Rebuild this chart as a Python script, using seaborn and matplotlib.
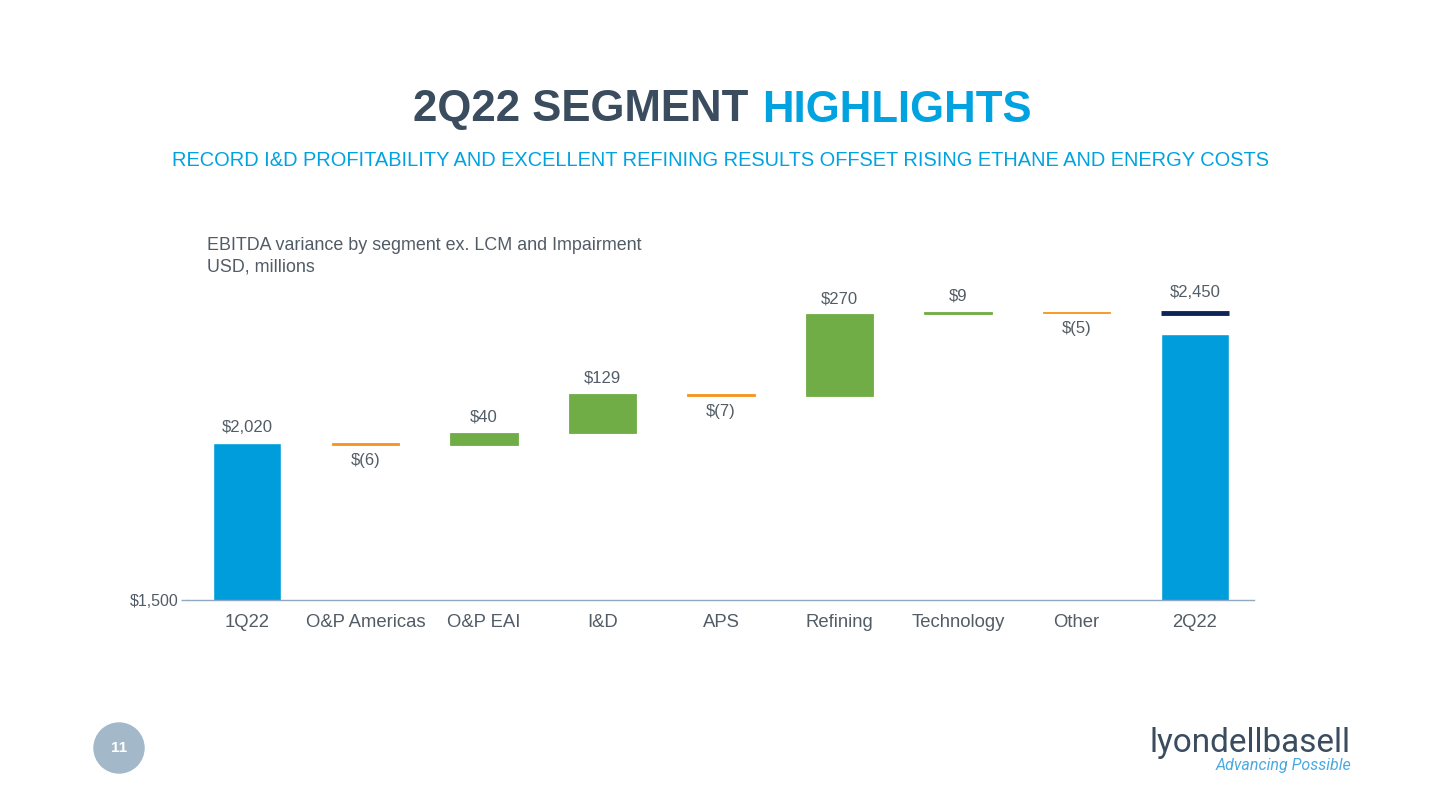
import numpy as np
import pandas as pd
import matplotlib
matplotlib.use("Agg")
import matplotlib.pyplot as plt
import seaborn as sns

# chart data
categories = ["1Q22", "O&P Americas", "O&P EAI", "I&D", "APS", "Refining", "Technology", "Other", "2Q22"]
start_total = 2020
deltas = [-6, 40, 129, -7, 270, 9, -5]
end_total = 2450
delta_labels = ["$(6)", "$40", "$129", "$(7)", "$270", "$9", "$(5)"]
total_labels = ["$2,020", "$2,450"]
y_base = 1500

BLUE = "#009DDC"
NAVY = "#0B2559"
GREEN = "#70AD47"
ORANGE = "#F7941D"
TXT = "#525C66"
DARK = "#3A4C5E"
CYAN = "#00A3E0"

sns.set_theme(style="white")
plt.rcParams["font.family"] = ["Liberation Sans", "DejaVu Sans"]

W, H = 1440, 810
fig = plt.figure(figsize=(W / 100, H / 100), dpi=100)
fig.patch.set_facecolor("white")

# axes placed in pixel terms
x0, x1, yb, yt = 188, 1254, 600, 290
ax = fig.add_axes([x0 / W, 1 - yb / H, (x1 - x0) / W, (yb - yt) / H])
px_per_unit = 157 / (start_total - y_base)
y_top = y_base + (yb - yt) / px_per_unit

# totals through seaborn
tot_df = pd.DataFrame({"cat": [categories[0], categories[-1]], "val": [start_total, end_total]})
gap = 21 / px_per_unit  # visual gap under the 2Q22 marker line
tot_df["drawn"] = [start_total, end_total - gap]
sns.barplot(data=tot_df, x="cat", y="drawn", order=categories, color=BLUE,
            saturation=1, width=0.57, ax=ax)

# waterfall steps
level = start_total
bw = 0.57
for i, d in enumerate(deltas, start=1):
    col = GREEN if d > 0 else ORANGE
    ax.bar(i, d, bottom=level, width=bw, color=col, edgecolor=col, linewidth=0.6)
    if d > 0:
        ax.text(i, level + d + 8 / px_per_unit, delta_labels[i - 1], ha="center", va="bottom",
                fontsize=12, color=TXT)
    else:
        ax.text(i, level + d - 8 / px_per_unit, delta_labels[i - 1], ha="center", va="top",
                fontsize=12, color=TXT)
    level += d

# total labels and end marker
n = len(categories) - 1
ax.plot([n - bw / 2, n + bw / 2], [end_total, end_total], color=NAVY, lw=3.5, solid_capstyle="butt")
ax.text(0, start_total + 8 / px_per_unit, total_labels[0], ha="center", va="bottom", fontsize=12, color=TXT)
ax.text(n, end_total + 13 / px_per_unit, total_labels[1], ha="center", va="bottom", fontsize=12, color=TXT)

ax.set_xlim(-0.5, len(categories) - 0.5)
ax.set_ylim(y_base, y_top)
ax.set_yticks([y_base])
ax.set_yticklabels(["$1,500"], fontsize=11.5, color=TXT)
ax.set_xticks(range(len(categories)))
ax.set_xticklabels(categories, fontsize=13.3, color=TXT)
ax.set_xlabel("")
ax.set_ylabel("")
for s in ["top", "right", "left"]:
    ax.spines[s].set_visible(False)
ax.spines["bottom"].set_color("#8EA9C1")
ax.spines["bottom"].set_linewidth(1)
ax.tick_params(axis="y", length=5, width=1, color="#8EA9C1", pad=2, left=True)
ax.tick_params(axis="x", length=0, pad=10)
ax.set_facecolor("none")

# titles
fig.text(748 / W, 1 - 110 / H, "2Q22 SEGMENT", ha="right", va="center", fontsize=31.5,
         fontweight="bold", color=DARK)
fig.text(762 / W, 1 - 110 / H, "HIGHLIGHTS", ha="left", va="center", fontsize=31.5,
         fontweight="bold", color=CYAN)
fig.text(720 / W, 1 - 161 / H,
         "RECORD I&D PROFITABILITY AND EXCELLENT REFINING RESULTS OFFSET RISING ETHANE AND ENERGY COSTS",
         ha="center", va="center", fontsize=14.4, color=CYAN)
fig.text(207 / W, 1 - 246 / H, "EBITDA variance by segment ex. LCM and Impairment",
         ha="left", va="center", fontsize=12.9, color=TXT)
fig.text(207 / W, 1 - 267 / H, "USD, millions", ha="left", va="center", fontsize=12.9, color=TXT)

# page number badge
circ = plt.Circle((119 / 100, (H - 748) / 100), 0.25, transform=fig.dpi_scale_trans, color="#A3B8C9")
fig.patches.append(circ)
fig.text(119 / W, 1 - 748 / H, "11", ha="center", va="center", fontsize=11,
         fontweight="bold", color="white")

# logo
fig.text(1351 / W, 1 - 752 / H, "lyondellbasell", ha="right", va="baseline", fontsize=24,
         color=DARK, family=["Roboto", "DejaVu Sans"])
fig.text(1351 / W, 1 - 770 / H, "Advancing Possible", ha="right", va="baseline", fontsize=11.5,
         color="#4BA9E0", style="italic", family=["Roboto", "DejaVu Sans"])

fig.savefig("out.png", dpi=100)
